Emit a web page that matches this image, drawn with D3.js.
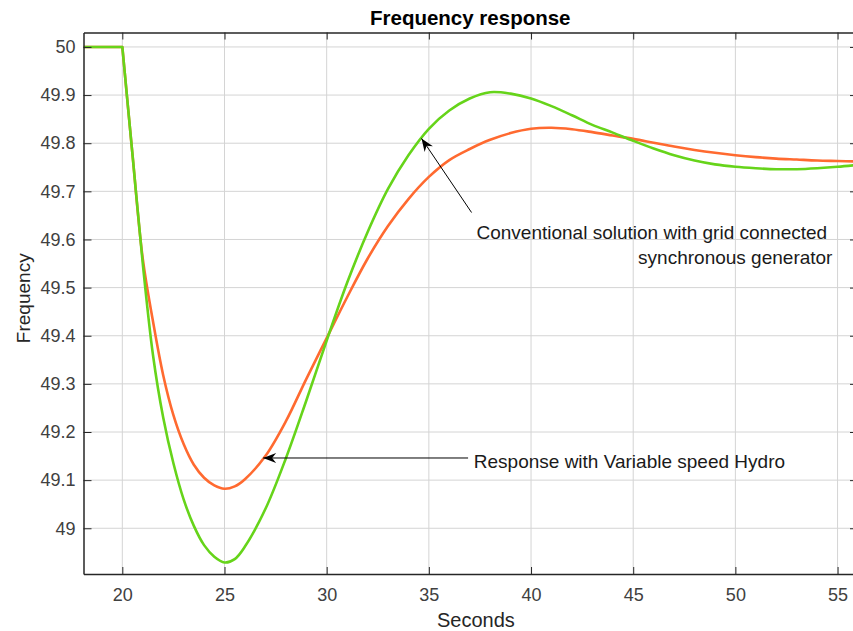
<!DOCTYPE html>
<html>
<head>
  <meta charset="utf-8">
  <script src="https://d3js.org/d3.v7.min.js"></script>
  <style>
    body { margin: 0; background: #fff; }
    svg { font-family: "Liberation Sans", Arial, sans-serif; }
    .grid line { stroke: #d4d4d4; stroke-width: 1; }
    .axis path, .axis line { stroke: #262626; }
    .axis text { fill: #404040; font-size: 18px; }
  </style>
</head>
<body>
<svg id="canvas" width="853" height="631"></svg>
<script>
  // frequency traces (seconds, Hz)
  const greenTime = [18.1, 20, 20.5, 21, 21.5, 22, 22.5, 23, 23.5, 24, 24.5, 25, 25.5, 26, 27, 28, 29, 30, 31, 32, 33, 34, 35, 36, 37, 38, 39, 40, 41, 42, 43, 44, 45, 46, 47, 48, 49, 50, 51, 52, 53, 54, 55, 56];
  const greenFreq = [50, 50, 49.775, 49.55, 49.36, 49.23, 49.135, 49.06, 49.005, 48.965, 48.941, 48.929, 48.936, 48.962, 49.04, 49.145, 49.265, 49.39, 49.51, 49.615, 49.705, 49.775, 49.83, 49.868, 49.893, 49.906, 49.903, 49.893, 49.877, 49.858, 49.838, 49.822, 49.805, 49.789, 49.775, 49.764, 49.756, 49.751, 49.748, 49.746, 49.746, 49.748, 49.751, 49.755];

  const orangeTime = [18.1, 20, 20.5, 21, 21.5, 22, 22.5, 23, 23.5, 24, 24.5, 25, 25.5, 26, 27, 28, 29, 30, 31, 32, 33, 34, 35, 36, 37, 38, 39, 40, 41, 42, 43, 44, 45, 46, 47, 48, 49, 50, 51, 52, 53, 54, 55, 56];
  const orangeFreq = [50, 50, 49.775, 49.56, 49.43, 49.318, 49.235, 49.175, 49.132, 49.105, 49.089, 49.082, 49.087, 49.102, 49.15, 49.222, 49.31, 49.395, 49.48, 49.56, 49.628, 49.684, 49.73, 49.765, 49.788, 49.807, 49.821, 49.83, 49.832, 49.829, 49.823, 49.816, 49.809, 49.801, 49.793, 49.786, 49.78, 49.775, 49.771, 49.768, 49.766, 49.764, 49.763, 49.762];

  const stepTime = 20; // disturbance instant: flat before, smooth after

  const xTicks = [20, 25, 30, 35, 40, 45, 50, 55];
  const yTicks = [49, 49.1, 49.2, 49.3, 49.4, 49.5, 49.6, 49.7, 49.8, 49.9, 50];

  // annotation arrows: tip and tail in data units
  const noteLabels = [["Response with Variable speed Hydro"], ["Conventional solution with grid connected\u00a0", "synchronous generator"]];
  const noteTips = [[26.89, 49.146], [34.64, 49.81]];
  const noteTails = [[36.92, 49.146], [37.09, 49.656]];
  const noteText = [[37.2, 49.126], [54.75, 49.6]];

  const svg = d3.select("svg");
  const margin = { left: 83.5, right: 858, top: 32.5, bottom: 574 };

  const x = d3.scaleLinear().domain([18.1, 56]).range([margin.left, margin.right]);
  const y = d3.scaleLinear().domain([48.905, 50.03]).range([margin.bottom, margin.top]);

  // grid
  const grid = svg.append("g").attr("class", "grid");
  grid.selectAll(".gx").data(xTicks).join("line")
      .attr("x1", d => x(d)).attr("x2", d => x(d))
      .attr("y1", margin.top).attr("y2", margin.bottom);
  grid.selectAll(".gy").data(yTicks).join("line")
      .attr("y1", d => y(d)).attr("y2", d => y(d))
      .attr("x1", margin.left).attr("x2", margin.right);

  // curves
  const flat = d3.line().x(d => x(d[0])).y(d => y(d[1]));
  const smooth = d3.line().x(d => x(d[0])).y(d => y(d[1])).curve(d3.curveCatmullRom.alpha(0.5));
  svg.append("clipPath").attr("id", "clip").append("rect")
      .attr("x", margin.left).attr("y", margin.top)
      .attr("width", margin.right - margin.left).attr("height", margin.bottom - margin.top);

  function trace(times, freqs, color) {
    const pts = d3.zip(times, freqs);
    const before = pts.filter(d => d[0] <= stepTime);
    const after = pts.filter(d => d[0] >= stepTime);
    svg.append("path")
        .attr("clip-path", "url(#clip)")
        .attr("fill", "none").attr("stroke", color).attr("stroke-width", 2.6)
        .attr("stroke-linejoin", "round")
        .attr("d", flat(before) + smooth(after).replace(/^M/, "L"));
  }
  trace(orangeTime, orangeFreq, "#ff6a30");
  trace(greenTime, greenFreq, "#66d41a");

  // axes, ticks pointing inward on all four sides
  const fmt = d => d3.format("")(+d.toFixed(1));
  svg.append("g").attr("class", "axis")
      .attr("transform", `translate(0,${margin.bottom})`)
      .call(d3.axisBottom(x).tickValues(xTicks).tickSizeInner(-7).tickSizeOuter(0).tickPadding(14))
      .call(g => g.select(".domain").attr("stroke-width", 1.5));
  svg.append("g").attr("class", "axis")
      .attr("transform", `translate(0,${margin.top})`)
      .call(d3.axisTop(x).tickValues(xTicks).tickSizeInner(-7).tickSizeOuter(0).tickFormat(""))
      .call(g => g.select(".domain").attr("stroke-width", 1.5));
  svg.append("g").attr("class", "axis")
      .attr("transform", `translate(${margin.left},0)`)
      .call(d3.axisLeft(y).tickValues(yTicks).tickSizeInner(-8).tickSizeOuter(0).tickPadding(8).tickFormat(fmt))
      .call(g => g.select(".domain").attr("stroke-width", 1.5));
  svg.append("g").attr("class", "axis")
      .attr("transform", `translate(${margin.right},0)`)
      .call(d3.axisRight(y).tickValues(yTicks).tickSizeInner(-8).tickSizeOuter(0).tickFormat(""))
      .call(g => g.select(".domain").attr("stroke-width", 1.5));

  // labels
  svg.append("text")
      .attr("x", (margin.left + margin.right - 5) / 2 + 2).attr("y", 25)
      .attr("text-anchor", "middle").attr("font-size", 20.5).attr("font-weight", "bold")
      .attr("fill", "#000").text("Frequency response");
  svg.append("text")
      .attr("x", x(20 + (55 - 20) / 2) - 4).attr("y", 627)
      .attr("text-anchor", "middle").attr("font-size", 20).attr("fill", "#262626")
      .text("Seconds");
  svg.append("text")
      .attr("transform", `translate(30,${(margin.top + margin.bottom) / 2 - 5}) rotate(-90)`)
      .attr("text-anchor", "middle").attr("font-size", 19).attr("fill", "#262626")
      .text("Frequency");

  // annotations
  function arrowHead(tip, tail) {
    const ang = Math.atan2(tail[1] - tip[1], tail[0] - tip[0]);
    const len = 13, half = 5, notch = 9;
    const p = (d, o) => [tip[0] + d * Math.cos(ang) - o * Math.sin(ang), tip[1] + d * Math.sin(ang) + o * Math.cos(ang)];
    const pts = [p(0, 0), p(len, half), p(notch, 0), p(len, -half)];
    return "M" + pts.map(q => q.join(",")).join("L") + "Z";
  }

  for (let i = 0; i < noteLabels.length; i++) {
    const tip = [x(noteTips[i][0]), y(noteTips[i][1])];
    const tail = [x(noteTails[i][0]), y(noteTails[i][1])];
    svg.append("line")
        .attr("x1", tail[0]).attr("y1", tail[1]).attr("x2", tip[0]).attr("y2", tip[1])
        .attr("stroke", "#000").attr("stroke-width", 1);
    svg.append("path").attr("d", arrowHead(tip, tail)).attr("fill", "#000");
    const t = svg.append("text")
        .attr("x", x(noteText[i][0])).attr("y", y(noteText[i][1]))
        .attr("font-size", 19).attr("fill", "#1a1a1a")
        .attr("text-anchor", i === 0 ? "start" : "end");
    noteLabels[i].forEach((s, k) => {
      t.append("tspan").attr("x", x(noteText[i][0])).attr("dy", k === 0 ? 0 : 25).text(s);
    });
  }
</script>
</body>
</html>
